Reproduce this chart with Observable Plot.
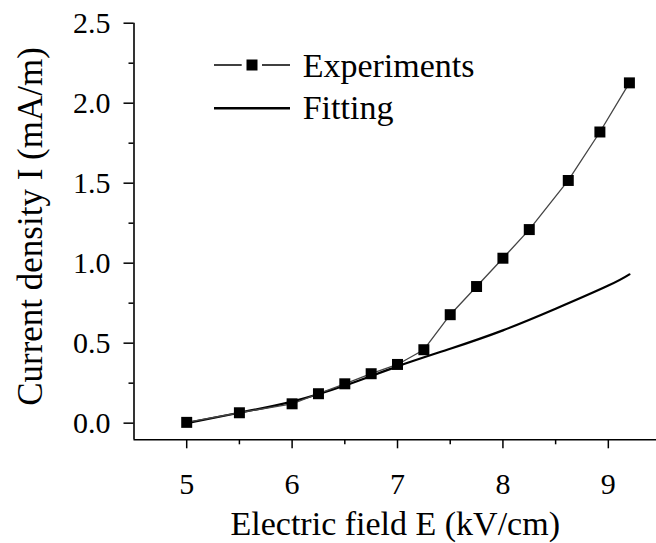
<!DOCTYPE html>
<html><head><meta charset="utf-8">
<script src="https://cdn.jsdelivr.net/npm/d3@7"></script>
<script src="https://cdn.jsdelivr.net/npm/@observablehq/plot@0.6"></script>
<style>body{margin:0;background:#fff} svg{display:block}</style>
</head><body><div id="chart"></div>
<script>
// Experimental data
const fieldExp   = [5, 5.5, 6, 6.25, 6.5, 6.75, 7, 7.25, 7.5, 7.75, 8, 8.25, 8.62, 8.92, 9.2];
const currentExp = [0.005, 0.065, 0.121, 0.184, 0.246, 0.309, 0.367, 0.459, 0.678, 0.854, 1.031, 1.21, 1.517, 1.82, 2.127];
// Fitting curve
const fieldFit   = [5, 5.5, 6, 6.5, 7, 7.5, 8, 8.5, 9, 9.2];
const currentFit = [0, 0.065, 0.135, 0.235, 0.355, 0.465, 0.58, 0.715, 0.86, 0.93];
// Ticks and labels
const xTicks = [5, 6, 7, 8, 9];
const xMinorTicks = [5.5, 6.5, 7.5, 8.5];
const yTicks = [0, 0.5, 1, 1.5, 2, 2.5];
const yMinorTicks = [0.25, 0.75, 1.25, 1.75, 2.25];
const xDomain = [4.5, 9.457];
const yDomain = [-0.104, 2.5];
const xLabel = "Electric field E (kV/cm)";
const yLabel = "Current density I (mA/m)";
const seriesNames = ["Experiments", "Fitting"];

const expData = fieldExp.map((x, i) => ({x, y: currentExp[i]}));
const fitData = fieldFit.map((x, i) => ({x, y: currentFit[i]}));

const FONT = "Liberation Serif";

function legend(index, scales, values, dimensions) {
  const g = d3.create("svg:g");
  const x0 = 214, x1 = 290, tx = 302.7;
  const rows = [{y: 65, base: 77}, {y: 108.3, base: 118.5}];
  // Experiments
  g.append("line").attr("x1", x0).attr("x2", 241.7).attr("y1", rows[0].y).attr("y2", rows[0].y)
    .attr("stroke", "black").attr("stroke-width", 1.5);
  g.append("line").attr("x1", 262).attr("x2", x1).attr("y1", rows[0].y).attr("y2", rows[0].y)
    .attr("stroke", "black").attr("stroke-width", 1.5);
  g.append("rect").attr("x", 252 - 5.5).attr("y", rows[0].y - 5.5).attr("width", 11).attr("height", 11)
    .attr("fill", "black");
  // Fitting
  g.append("line").attr("x1", x0).attr("x2", x1).attr("y1", rows[1].y).attr("y2", rows[1].y)
    .attr("stroke", "black").attr("stroke-width", 2.5);
  seriesNames.forEach((s, i) => {
    g.append("text").attr("x", tx).attr("y", rows[i].base).text(s)
      .attr("text-anchor", "start")
      .attr("font-family", FONT).attr("font-size", 34).attr("fill", "black");
  });
  return g.node();
}

const chart = Plot.plot({
  width: 656,
  height: 543,
  marginLeft: 133.5,
  marginRight: 0,
  marginTop: 22.7,
  marginBottom: 103.7,
  style: {fontFamily: FONT, fontSize: "30px", color: "black", background: "white"},
  x: {domain: xDomain, axis: null},
  y: {domain: yDomain, axis: null},
  marks: [
    Plot.line(fitData, {x: "x", y: "y", stroke: "black", strokeWidth: 2.2, curve: "natural"}),
    Plot.line(expData, {x: "x", y: "y", stroke: "#444", strokeWidth: 1.3}),
    Plot.dot(expData, {x: "x", y: "y", symbol: "square", r: 6.2, fill: "black", stroke: "none"}),
    // axis lines
    Plot.ruleX([xDomain[0]], {stroke: "black", strokeWidth: 1.6}),
    Plot.ruleY([yDomain[0]], {stroke: "black", strokeWidth: 1.6}),
    // ticks
    Plot.axisX(xTicks, {anchor: "bottom", tickSize: 9, tickFormat: () => "", label: null, strokeWidth: 1.5}),
    Plot.axisX(xMinorTicks, {anchor: "bottom", tickSize: 5, tickFormat: () => "", label: null, strokeWidth: 1.5}),
    Plot.axisY(yTicks, {anchor: "left", tickSize: 10, tickFormat: () => "", label: null, strokeWidth: 1.5}),
    Plot.axisY(yMinorTicks, {anchor: "left", tickSize: 5, tickFormat: () => "", label: null, strokeWidth: 1.5}),
    // tick labels
    Plot.text(xTicks, {x: d => d, text: d => String(d), frameAnchor: "bottom", dy: 53.7, lineAnchor: "bottom", fontSize: 30, fontFamily: FONT, fill: "black"}),
    Plot.text(yTicks, {y: d => d, text: d => d3.format(".1f")(d), frameAnchor: "left", textAnchor: "end", dx: -23.5, lineAnchor: "middle", fontSize: 30, fontFamily: FONT, fill: "black"}),
    // axis titles
    Plot.text([xLabel], {frameAnchor: "bottom", dy: 95, lineAnchor: "bottom", fontSize: 34, fontFamily: FONT, fill: "black"}),
    Plot.text([yLabel], {frameAnchor: "left", textAnchor: "middle", rotate: -90, dx: -91.8, dy: -5, lineAnchor: "bottom", fontSize: 35, fontFamily: FONT, fill: "black"}),
    legend
  ]
});
document.getElementById("chart").appendChild(chart);
</script>
</body></html>
